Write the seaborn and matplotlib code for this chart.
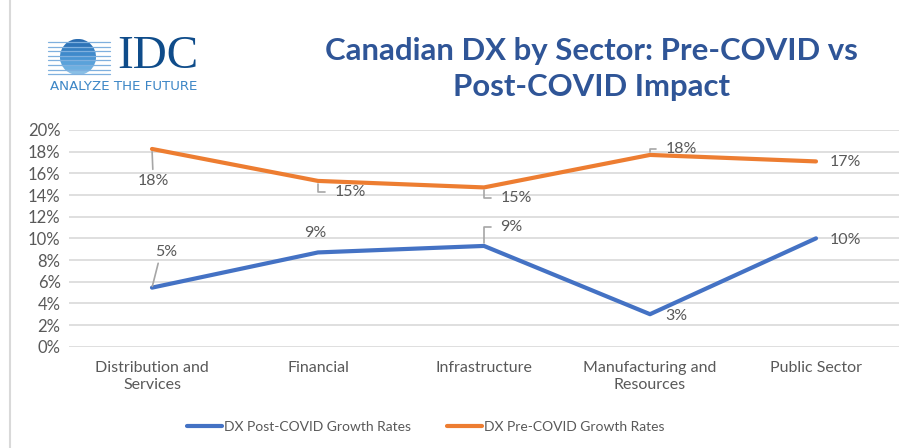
import numpy as np
import pandas as pd
import matplotlib.pyplot as plt
import seaborn as sns
from matplotlib.patches import Circle, Rectangle
from matplotlib.lines import Line2D

# ─────────────────────────────────────────
# DATA
# ─────────────────────────────────────────
sectors = ["Distribution and\nServices", "Financial", "Infrastructure",
           "Manufacturing and\nResources", "Public Sector"]
post_covid = [5.45, 8.7, 9.3, 3.0, 10.0]
pre_covid = [18.25, 15.3, 14.7, 17.7, 17.1]
post_name = "DX Post-COVID Growth Rates"
pre_name = "DX Pre-COVID Growth Rates"
y_ticks = [0, 2, 4, 6, 8, 10, 12, 14, 16, 18, 20]

BLUE = "#4472C4"
ORANGE = "#ED7D31"
GREY = "#595959"
LEADER = "#A6A6A6"

df = pd.DataFrame({
    "sector": sectors * 2,
    "pos": list(range(len(sectors))) * 2,
    "value": post_covid + pre_covid,
    "series": [post_name] * len(sectors) + [pre_name] * len(sectors),
})

sns.set_theme(style="white")
plt.rcParams["font.family"] = ["Lato", "DejaVu Sans"]

fig = plt.figure(figsize=(9.05, 4.48), dpi=100)
W, H = 905, 448
ax = fig.add_axes([69 / W, 1 - 346.7 / H, 830 / W, 216.7 / H])

sns.lineplot(data=df, x="pos", y="value", hue="series",
             palette={post_name: BLUE, pre_name: ORANGE},
             linewidth=3, ax=ax, legend=False, sort=False)

ax.set_xlim(-0.5, len(sectors) - 0.5)
ax.set_ylim(0, 20)
ax.set_yticks(y_ticks)
ax.set_yticklabels([f"{t}%" for t in y_ticks], color=GREY, fontsize=12)
ax.set_xticks(range(len(sectors)))
ax.set_xticklabels(sectors, color=GREY, fontsize=11.5, linespacing=1.3)
ax.tick_params(axis="both", length=0, pad=6)
ax.tick_params(axis="x", pad=10)
ax.set_xlabel("")
ax.set_ylabel("")
ax.grid(axis="y", color="#D9D9D9", linewidth=1.2)
ax.set_axisbelow(True)
for s in ax.spines.values():
    s.set_visible(False)

# data labels: (offset px, leader kind)
post_offsets = [(14, 36), (-3, 19), (27, 19), (26, -2), (29, -2)]
post_leaders = ["straight", None, "up", None, None]
pre_offsets = [(1, -32), (32, -11), (32, -11), (31, 6), (29, -1)]
pre_leaders = ["below", "down", "down", "up", None]


def label_series(values, offsets, leaders):
    for i, (v, off, kind) in enumerate(zip(values, offsets, leaders)):
        props = None
        if kind == "straight":
            props = dict(arrowstyle="-", color=LEADER, lw=1.2,
                         relpos=(0.2, 0.0), shrinkA=1, shrinkB=1)
        elif kind == "below":
            props = dict(arrowstyle="-", color=LEADER, lw=1.2,
                         relpos=(0.5, 1.0), shrinkA=1, shrinkB=2)
        elif kind in ("up", "down"):
            props = dict(arrowstyle="-", color=LEADER, lw=1.2,
                         relpos=(0.0, 0.5), shrinkA=4, shrinkB=2,
                         connectionstyle="angle,angleA=0,angleB=90,rad=0")
        ax.annotate(f"{round(v):.0f}%", xy=(i, v), xytext=off,
                    textcoords="offset pixels", ha="center", va="center",
                    fontsize=11.5, color=GREY, arrowprops=props)


label_series(post_covid, post_offsets, post_leaders)
label_series(pre_covid, pre_offsets, pre_leaders)

# legend
handles = [Line2D([], [], color=BLUE, lw=3), Line2D([], [], color=ORANGE, lw=3)]
fig.legend(handles, [post_name, pre_name], loc="center",
           bbox_to_anchor=(426 / W, 1 - 427 / H), ncol=2, frameon=False,
           fontsize=10, handlelength=2.5, handletextpad=0.15,
           columnspacing=2.6, labelcolor=GREY)

# title
fig.text(591 / W, 1 - 69 / H, "Canadian DX by Sector: Pre-COVID vs\nPost-COVID Impact",
         ha="center", va="center", fontsize=22.4, fontweight="bold",
         color="#2F5597", linespacing=1.33)

# IDC logo
lax = fig.add_axes([0, 0, 1, 1], zorder=-1)
lax.set_xlim(0, W)
lax.set_ylim(H, 0)
lax.axis("off")
for k in range(8):
    y = 42 + k * 4.6
    lax.add_line(Line2D([48, 110], [y, y], color="#7FB0DE", lw=0.9))
globe = Circle((78, 57), 18, transform=lax.transData)
band_cols = ["#2A6CB0", "#2E74B8", "#3780C2", "#3F8ACB", "#4A95D3", "#5AA2DA", "#6DAFE0", "#8ABFE6"]
for k, c in enumerate(band_cols):
    r = Rectangle((55, 39 + k * 4.5), 50, 3.4, color=c)
    lax.add_patch(r)
    r.set_clip_path(globe)
fig.text(158 / W, 1 - 57 / H, "IDC", ha="center", va="center",
         fontsize=34, family="Liberation Serif", color="#0F4C8A")
fig.text(124 / W, 1 - 87 / H, "ANALYZE THE FUTURE", ha="center", va="center",
         fontsize=9.6, family="DejaVu Sans", color="#3C86C6")

# left border of the chart frame
fig.add_artist(Line2D([10 / W, 10 / W], [0, 1], color="#D9D9D9", lw=1.5))

fig.savefig("out.png", dpi=100)
